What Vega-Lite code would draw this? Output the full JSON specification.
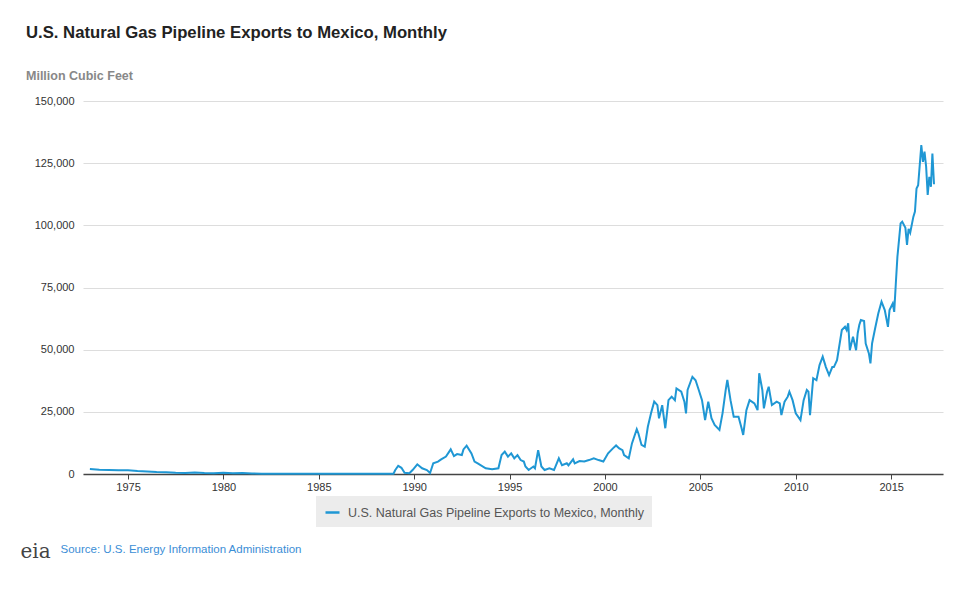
{
"$schema": "https://vega.github.io/schema/vega-lite/v6.json",
"width": 860, "height": 373,
"autosize": {"type": "none"},
"padding": {"left": 83, "top": 101, "right": 26, "bottom": 120},
"background": "white",
"config": {"font": "Liberation Sans", "view": {"stroke": null}},
"title": {"text": "U.S. Natural Gas Pipeline Exports to Mexico, Monthly", "subtitle": "Million Cubic Feet", "anchor": "start", "frame": "group", "dx": -57, "fontSize": 16.7, "fontWeight": "bold", "color": "#222222", "subtitleFontSize": 12.5, "subtitleFontWeight": "bold", "subtitleColor": "#888888", "subtitlePadding": 28, "offset": 13},
"data": {"values": [
{"date":"1973-01-01","value":2000},{"date":"1973-07-01","value":1700},{"date":"1974-01-01","value":1600},{"date":"1974-07-01","value":1500},
{"date":"1975-01-01","value":1500},{"date":"1975-07-01","value":1200},{"date":"1976-01-01","value":1000},{"date":"1976-07-01","value":800},
{"date":"1977-01-01","value":700},{"date":"1977-07-01","value":500},{"date":"1978-01-01","value":400},{"date":"1978-07-01","value":600},
{"date":"1979-01-01","value":400},{"date":"1979-07-01","value":300},{"date":"1980-01-01","value":500},{"date":"1980-07-01","value":300},
{"date":"1981-01-01","value":400},{"date":"1981-07-01","value":200},{"date":"1982-01-01","value":100},{"date":"1983-01-01","value":100},
{"date":"1984-01-01","value":100},{"date":"1985-01-01","value":100},{"date":"1986-01-01","value":100},{"date":"1987-01-01","value":100},
{"date":"1988-01-01","value":100},{"date":"1988-12-01","value":100},{"date":"1989-01-01","value":1500},{"date":"1989-03-01","value":3300},
{"date":"1989-05-01","value":2500},{"date":"1989-07-01","value":500},{"date":"1989-10-01","value":300},{"date":"1989-12-01","value":1600},
{"date":"1990-03-01","value":3900},{"date":"1990-06-01","value":2300},{"date":"1990-09-01","value":1600},{"date":"1990-11-01","value":400},
{"date":"1991-01-01","value":4300},{"date":"1991-04-01","value":5000},{"date":"1991-06-01","value":5900},{"date":"1991-09-01","value":7000},
{"date":"1991-12-01","value":9900},{"date":"1992-02-01","value":7200},{"date":"1992-04-01","value":8000},{"date":"1992-07-01","value":7600},
{"date":"1992-08-01","value":9900},{"date":"1992-10-01","value":11400},{"date":"1993-01-01","value":8300},{"date":"1993-03-01","value":5000},
{"date":"1993-05-01","value":4300},{"date":"1993-10-01","value":2300},{"date":"1994-02-01","value":1900},{"date":"1994-06-01","value":2300},
{"date":"1994-08-01","value":7600},{"date":"1994-10-01","value":9000},{"date":"1994-12-01","value":7000},{"date":"1995-02-01","value":8300},
{"date":"1995-04-01","value":6300},{"date":"1995-06-01","value":7600},{"date":"1995-08-01","value":5600},{"date":"1995-10-01","value":5000},
{"date":"1995-11-01","value":3000},{"date":"1996-01-01","value":1600},{"date":"1996-04-01","value":3000},{"date":"1996-05-01","value":2300},
{"date":"1996-07-01","value":9600},{"date":"1996-09-01","value":3000},{"date":"1996-11-01","value":1600},{"date":"1997-02-01","value":2300},
{"date":"1997-05-01","value":1600},{"date":"1997-08-01","value":6300},{"date":"1997-10-01","value":3500},{"date":"1998-01-01","value":4300},
{"date":"1998-02-01","value":3500},{"date":"1998-05-01","value":5900},{"date":"1998-06-01","value":4300},{"date":"1998-09-01","value":5200},
{"date":"1998-12-01","value":5000},{"date":"1999-03-01","value":5600},{"date":"1999-06-01","value":6300},{"date":"1999-09-01","value":5600},
{"date":"1999-12-01","value":5000},{"date":"2000-03-01","value":8300},{"date":"2000-06-01","value":10300},{"date":"2000-08-01","value":11500},
{"date":"2000-10-01","value":10300},{"date":"2000-12-01","value":9600},{"date":"2001-01-01","value":7600},{"date":"2001-04-01","value":6300},
{"date":"2001-06-01","value":12300},{"date":"2001-09-01","value":18000},{"date":"2001-10-01","value":16400},{"date":"2001-12-01","value":11700},
{"date":"2002-02-01","value":11000},{"date":"2002-04-01","value":19000},{"date":"2002-06-01","value":24400},{"date":"2002-08-01","value":29100},
{"date":"2002-10-01","value":27700},{"date":"2002-11-01","value":22400},{"date":"2003-01-01","value":27700},{"date":"2003-03-01","value":18400},
{"date":"2003-05-01","value":29700},{"date":"2003-07-01","value":31100},{"date":"2003-09-01","value":29700},{"date":"2003-10-01","value":34400},
{"date":"2004-01-01","value":33100},{"date":"2004-03-01","value":29100},{"date":"2004-04-01","value":24400},{"date":"2004-05-01","value":33800},
{"date":"2004-08-01","value":39100},{"date":"2004-10-01","value":37700},{"date":"2004-12-01","value":33800},{"date":"2005-02-01","value":29700},
{"date":"2005-04-01","value":21700},{"date":"2005-06-01","value":29100},{"date":"2005-08-01","value":22400},{"date":"2005-10-01","value":19700},
{"date":"2006-01-01","value":17700},{"date":"2006-03-01","value":24400},{"date":"2006-05-01","value":33800},{"date":"2006-06-01","value":37800},
{"date":"2006-08-01","value":29700},{"date":"2006-10-01","value":23000},{"date":"2007-01-01","value":23000},{"date":"2007-03-01","value":18400},
{"date":"2007-04-01","value":15700},{"date":"2007-06-01","value":25700},{"date":"2007-08-01","value":29700},{"date":"2007-11-01","value":28400},
{"date":"2008-01-01","value":25700},{"date":"2008-02-01","value":40500},{"date":"2008-04-01","value":33800},{"date":"2008-05-01","value":26400},
{"date":"2008-07-01","value":33100},{"date":"2008-08-01","value":35100},{"date":"2008-10-01","value":27700},{"date":"2009-01-01","value":29100},
{"date":"2009-03-01","value":28400},{"date":"2009-04-01","value":23700},{"date":"2009-06-01","value":29100},{"date":"2009-08-01","value":31100},
{"date":"2009-09-01","value":33100},{"date":"2009-11-01","value":29700},{"date":"2010-01-01","value":24400},{"date":"2010-04-01","value":21700},
{"date":"2010-06-01","value":29700},{"date":"2010-08-01","value":33800},{"date":"2010-09-01","value":33100},{"date":"2010-10-01","value":23700},
{"date":"2010-12-01","value":38500},{"date":"2011-02-01","value":37700},{"date":"2011-04-01","value":43800},{"date":"2011-06-01","value":47200},
{"date":"2011-08-01","value":43000},{"date":"2011-10-01","value":39800},{"date":"2011-12-01","value":43000},{"date":"2012-01-01","value":43000},
{"date":"2012-03-01","value":45800},{"date":"2012-06-01","value":57900},{"date":"2012-08-01","value":59200},{"date":"2012-09-01","value":57900},
{"date":"2012-10-01","value":60600},{"date":"2012-11-01","value":49800},{"date":"2013-01-01","value":55200},{"date":"2013-03-01","value":49800},
{"date":"2013-04-01","value":56600},{"date":"2013-05-01","value":59900},{"date":"2013-06-01","value":61900},{"date":"2013-08-01","value":61500},
{"date":"2013-09-01","value":52500},{"date":"2013-11-01","value":48500},{"date":"2013-12-01","value":44500},{"date":"2014-01-01","value":52500},
{"date":"2014-03-01","value":58600},{"date":"2014-05-01","value":64600},{"date":"2014-07-01","value":69300},{"date":"2014-09-01","value":65900},
{"date":"2014-11-01","value":59200},{"date":"2014-12-01","value":65900},{"date":"2015-02-01","value":68600},{"date":"2015-03-01","value":65200},
{"date":"2015-04-01","value":76700},{"date":"2015-05-01","value":87300},{"date":"2015-07-01","value":100800},{"date":"2015-08-01","value":101500},
{"date":"2015-10-01","value":99000},{"date":"2015-11-01","value":92100},{"date":"2015-12-01","value":98600},{"date":"2016-01-01","value":97000},
{"date":"2016-03-01","value":103400},{"date":"2016-04-01","value":105500},{"date":"2016-05-01","value":114800},{"date":"2016-06-01","value":116100},
{"date":"2016-08-01","value":132300},{"date":"2016-09-01","value":125500},{"date":"2016-10-01","value":129600},{"date":"2016-11-01","value":123600},
{"date":"2016-12-01","value":112200},{"date":"2017-01-01","value":119500},{"date":"2017-02-01","value":115500},{"date":"2017-03-01","value":128900},
{"date":"2017-04-01","value":116500}
]},
"mark": {"type": "line", "strokeWidth": 2},
"encoding": {
  "x": {"field": "date", "type": "temporal",
    "scale": {"type": "utc", "domain": [{"year": 1972, "month": 8, "date": 22, "utc": true}, {"year": 2017, "month": 9, "date": 20, "utc": true}]},
    "axis": {"title": "Source: U.S. Energy Information Administration", "titleX": -23, "titleY": 78, "titleAlign": "left", "titleBaseline": "alphabetic", "titleAnchor": "start", "titleFontSize": 11.5, "titleFontWeight": "normal", "titleColor": "#3b8ed6",
      "format": "%Y", "tickCount": {"interval": "year", "step": 5}, "grid": false, "domainColor": "#444444", "domainWidth": 1.5, "tickColor": "#444444", "tickSize": 5, "labelFontSize": 11, "labelColor": "#333333", "labelPadding": 2, "labelFlush": false}},
  "y": {"field": "value", "type": "quantitative", "scale": {"domain": [0, 150000], "nice": false},
    "axis": {"title": "eia", "titleX": -63, "titleY": 456, "titleAngle": 0, "titleAlign": "left", "titleBaseline": "alphabetic", "titleAnchor": "start", "titleFont": "DejaVu Serif", "titleFontSize": 20, "titleFontWeight": "normal", "titleColor": "#444444",
      "values": [0, 25000, 50000, 75000, 100000, 125000, 150000], "format": ",.0f", "domain": false, "ticks": false, "gridColor": "#dddddd", "labelFontSize": 11, "labelColor": "#333333", "labelPadding": 9}},
  "color": {"datum": "U.S. Natural Gas Pipeline Exports to Mexico, Monthly", "scale": {"range": ["#1f97d4"]},
    "legend": {"orient": "none", "legendX": 233, "legendY": 395, "title": null, "fillColor": "#ececec", "padding": 8, "symbolType": "stroke", "symbolSize": 196, "symbolStrokeWidth": 2.5, "labelFontSize": 12.5, "labelColor": "#555555", "labelOffset": 7, "labelLimit": 400}}
}
}
